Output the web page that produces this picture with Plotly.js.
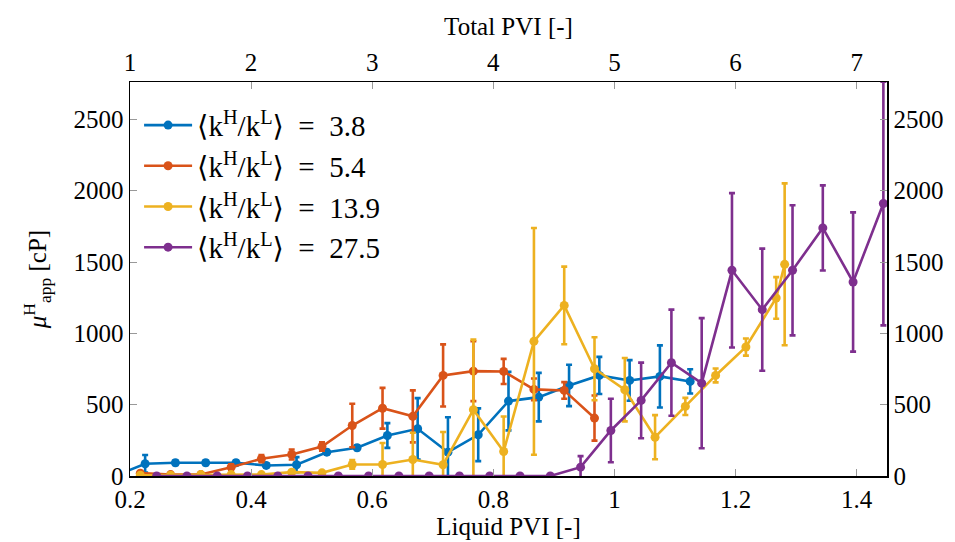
<!DOCTYPE html>
<html>
<head>
<meta charset="utf-8">
<script src="https://cdn.plot.ly/plotly-3.0.1.min.js"></script>
<style>html,body{margin:0;padding:0;background:#fff;}#chart{width:955px;height:542px;}</style>
</head>
<body>
<div id="chart"></div>
<script>
// ---- data ----
const seriesNames = ["⟨k<sup>H</sup>/k<sup>L</sup>⟩  =  3.8", "⟨k<sup>H</sup>/k<sup>L</sup>⟩  =  5.4", "⟨k<sup>H</sup>/k<sup>L</sup>⟩  =  13.9", "⟨k<sup>H</sup>/k<sup>L</sup>⟩  =  27.5"];
const seriesColors = ["#0072BD", "#D95319", "#EDB120", "#7E2F8E"];

const xBlue = [0.175,0.225,0.275,0.325,0.375,0.425,0.475,0.525,0.575,0.625,0.675,0.725,0.775,0.825,0.875,0.925,0.975,1.025,1.075,1.125];
const yBlue = [0,86,93,93,93,74,79,167,198,284,331,167,289,525,553,635,705,670,698,663];
const eBlue = [0,61,15,15,15,15,53,15,15,87,215,245,185,205,170,145,130,142,218,85];

const xOrange = [0.217,0.267,0.317,0.367,0.417,0.467,0.517,0.567,0.617,0.667,0.717,0.767,0.817,0.867,0.917,0.967];
const yOrange = [20,10,10,62,121,151,207,354,475,418,705,735,733,607,600,406];
const eOrange = [0,0,0,20,25,35,30,152,143,182,218,210,88,76,58,158];

const xYellow = [0.217,0.267,0.317,0.367,0.417,0.467,0.517,0.567,0.617,0.667,0.717,0.767,0.817,0.867,0.917,0.967,1.017,1.067,1.117,1.167,1.217,1.267,1.281];
const yYellow = [5,5,10,10,10,27,22,81,81,116,79,465,172,944,1196,752,605,272,488,705,904,1248,1484];
const eYellow = [0,0,0,0,0,10,10,30,150,187,229,491,245,795,272,221,222,155,60,49,60,146,567];

const xPurple = [0.244,0.294,0.344,0.394,0.444,0.494,0.544,0.594,0.644,0.694,0.744,0.794,0.844,0.894,0.944,0.994,1.044,1.094,1.144,1.194,1.244,1.294,1.344,1.394,1.444];
const yPurple = [0,0,0,0,0,0,0,0,0,0,0,0,0,0,62,319,530,794,651,1442,1166,1442,1739,1360,1910];
const ePurple = [0,0,0,0,0,0,0,0,0,0,0,0,0,0,77,223,265,372,456,541,428,456,298,488,854];

const liquidTicks = [0.2,0.4,0.6,0.8,1,1.2,1.4];
const totalTicks = [1,2,3,4,5,6,7];
const yTicks = [0,500,1000,1500,2000,2500];

const xs = [xBlue, xOrange, xYellow, xPurple];
const ys = [yBlue, yOrange, yYellow, yPurple];
const es = [eBlue, eOrange, eYellow, ePurple];

const FONT = "'Liberation Serif', 'DejaVu Serif', serif";

const traces = xs.map((x, i) => ({
  type: "scatter", mode: "lines+markers",
  x: x, y: ys[i], name: seriesNames[i],
  line: {color: seriesColors[i], width: 2.6},
  marker: {color: seriesColors[i], size: 9},
  error_y: {type: "data", array: es[i], visible: true, color: seriesColors[i], thickness: 2.6, width: 3},
  xaxis: "x", yaxis: "y"
}));
// invisible helpers to carry the top and right axes
traces.push({type: "scatter", mode: "markers", x: [1, 7.25], y: [0, 0], xaxis: "x2", yaxis: "y", showlegend: false, hoverinfo: "skip", marker: {opacity: 0}});
traces.push({type: "scatter", mode: "markers", x: [0.2, 1.45], y: [0, 0], xaxis: "x", yaxis: "y2", showlegend: false, hoverinfo: "skip", marker: {opacity: 0}});

const axisCommon = {
  showgrid: false, zeroline: false, showline: true, linecolor: "#000", linewidth: 1.5,
  ticks: "inside", ticklen: 7, tickcolor: "#999", tickwidth: 1,
  tickfont: {family: FONT, size: 25, color: "#000"}
};

const layout = {
  width: 955, height: 542,
  margin: {l: 130, r: 68, t: 82, b: 66},
  paper_bgcolor: "#fff", plot_bgcolor: "#fff",
  font: {family: FONT, size: 25, color: "#000"},
  showlegend: true,
  legend: {x: 0.012, y: 0.955, xanchor: "left", yanchor: "top", bgcolor: "rgba(255,255,255,0)",
           font: {family: FONT, size: 29, color: "#000"}, itemwidth: 48, tracegroupgap: 0},
  xaxis: Object.assign({}, axisCommon, {
    range: [0.2, 1.45], tickvals: liquidTicks, ticktext: liquidTicks.map(String),
    title: {text: "Liquid PVI [-]", font: {family: FONT, size: 25}, standoff: 2}
  }),
  xaxis2: Object.assign({}, axisCommon, {
    range: [1, 7.25], tickvals: totalTicks, overlaying: "x", side: "top", anchor: "y",
    title: {text: "Total PVI [-]", font: {family: FONT, size: 25}, standoff: 6}
  }),
  yaxis: Object.assign({}, axisCommon, {
    range: [0, 2762], tickvals: yTicks,
    title: {text: "<i>μ</i><sup>H</sup><sub>app</sub> [cP]", font: {family: FONT, size: 25}, standoff: 20}
  }),
  yaxis2: Object.assign({}, axisCommon, {
    range: [0, 2762], tickvals: yTicks, overlaying: "y", side: "right", anchor: "x"
  })
};

Plotly.newPlot("chart", traces, layout, {displayModeBar: false, staticPlot: true});
</script>
</body>
</html>
